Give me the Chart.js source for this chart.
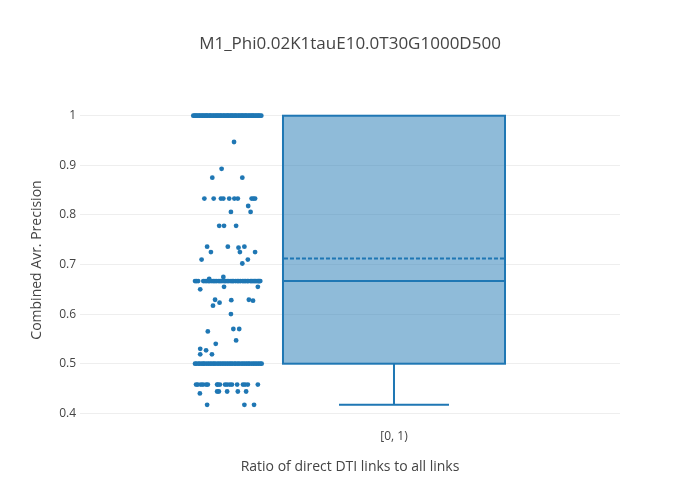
<!DOCTYPE html>
<html>
<head>
<meta charset="utf-8">
<script src="https://cdn.jsdelivr.net/npm/chart.js@4.4.1/dist/chart.umd.min.js"></script>
<style>
 html, body { margin: 0; background: #fff; }
</style>
</head>
<body>
<canvas id="chart" width="700" height="500"></canvas>
<script>
const titleText = "M1_Phi0.02K1tauE10.0T30G1000D500";
const category = "[0, 1)";
const xTitle = "Ratio of direct DTI links to all links";
const yTitle = "Combined Avr. Precision";
const yTicks = [0.4, 0.5, 0.6, 0.7, 0.8, 0.9, 1];

// crowded levels: one jitter entry (-1..1) per point
const jitterAtOne = [-0.99, -0.96, -0.92, -0.9, -0.86, -0.82, -0.8, -0.75, -0.73, -0.69,
 -0.66, -0.62, -0.6, -0.57, -0.52, -0.5, -0.47, -0.42, -0.4, -0.35,
 -0.33, -0.29, -0.27, -0.22, -0.2, -0.17, -0.12, -0.1, -0.06, -0.02,
 0.01, 0.03, 0.08, 0.1, 0.14, 0.16, 0.21, 0.23, 0.26, 0.31,
 0.33, 0.38, 0.4, 0.44, 0.46, 0.51, 0.53, 0.56, 0.61, 0.63,
 0.68, 0.7, 0.74, 0.76, 0.81, 0.83, 0.88, 0.9, 0.94, 0.98];
const jitterAtTwoThirds = [-0.94, -0.9, -0.85, -0.7, -0.65, -0.6, -0.55, -0.51, -0.45, -0.4,
 -0.36, -0.31, -0.25, -0.21, -0.16, -0.1, -0.06, -0.01, 0.04, 0.1,
 0.14, 0.18, 0.24, 0.29, 0.33, 0.38, 0.44, 0.48, 0.52, 0.57,
 0.6, 0.66, 0.7, 0.74, 0.78, 0.82, 0.86, 0.9, 0.92, 0.95];
const jitterAtHalf = [-0.94, -0.9, -0.84, -0.8, -0.74, -0.7, -0.66, -0.6, -0.55, -0.5,
 -0.45, -0.4, -0.36, -0.3, -0.25, -0.2, -0.15, -0.1, -0.05, 0.0,
 0.05, 0.1, 0.14, 0.2, 0.24, 0.3, 0.34, 0.4, 0.45, 0.5,
 0.55, 0.6, 0.64, 0.7, 0.75, 0.8, 0.85, 0.9, 0.95, 0.99];

// scattered points
const otherValues = [0.947, 0.893, 0.875, 0.875,
 0.833, 0.833, 0.833, 0.833, 0.833, 0.833, 0.833, 0.833, 0.833, 0.833,
 0.818, 0.806, 0.806, 0.778, 0.778, 0.778, 0.736, 0.736, 0.736, 0.734,
 0.725, 0.725, 0.725, 0.71, 0.71, 0.702,
 0.675, 0.671, 0.65, 0.655, 0.655, 0.629, 0.629, 0.628, 0.627, 0.623,
 0.617, 0.6, 0.565, 0.57, 0.57, 0.547, 0.54, 0.53, 0.527, 0.519, 0.519,
 0.458, 0.458, 0.458, 0.458, 0.458, 0.458, 0.458, 0.458, 0.458,
 0.458, 0.458, 0.458, 0.458, 0.458, 0.458, 0.458, 0.458, 0.458,
 0.444, 0.444, 0.444, 0.444, 0.444, 0.44, 0.417, 0.417, 0.417];
const otherJitter = [0.19, -0.17, -0.44, 0.43,
 -0.67, -0.4, -0.19, -0.12, 0.05, 0.2, 0.3, 0.7, 0.75, 0.8,
 0.6, 0.1, 0.67, -0.24, -0.1, 0.25, -0.59, 0.01, 0.49, 0.32,
 -0.48, 0.36, 0.8, -0.75, 0.59, 0.43,
 -0.12, -0.53, -0.79, -0.1, 0.88, -0.36, 0.62, 0.11, 0.74, -0.23,
 -0.42, 0.1, -0.57, 0.17, 0.34, 0.25, -0.34, -0.79, -0.62, -0.79, -0.45,
 -0.91, -0.86, -0.77, -0.71, -0.62, -0.57, -0.3, -0.28, -0.22,
 -0.07, -0.01, 0.07, 0.13, 0.28, 0.45, 0.51, 0.59, 0.88,
 -0.3, -0.25, -0.01, 0.3, 0.54, -0.8, -0.59, 0.49, 0.77];

const values = [
 ...jitterAtOne.map(() => 1),
 ...jitterAtTwoThirds.map(() => 0.6667),
 ...jitterAtHalf.map(() => 0.5),
 ...otherValues,
];
const jitter = [...jitterAtOne, ...jitterAtTwoThirds, ...jitterAtHalf, ...otherJitter];

// layout of the trace along the x axis (box at 0, points to its left)
const boxHalf = 0.35;
const capHalf = 0.1734;
const pointCenter = -0.525;
const jitterHalf = 0.1088;
const blue = "#1f77b4";

const quantile = (s, p) => {
 const i = (s.length - 1) * p;
 const lo = Math.floor(i), hi = Math.ceil(i);
 return s[lo] + (s[hi] - s[lo]) * (i - lo);
};
const sorted = [...values].sort((a, b) => a - b);
const q1 = quantile(sorted, 0.25);
const median = quantile(sorted, 0.5);
const q3 = quantile(sorted, 0.75);
const mean = values.reduce((a, b) => a + b, 0) / values.length;
const iqr = q3 - q1;
const lowWhisker = sorted.find((v) => v >= q1 - 1.5 * iqr);
const highWhisker = [...sorted].reverse().find((v) => v <= q3 + 1.5 * iqr);

const font = "'Open Sans', verdana, arial, sans-serif";

const boxPlugin = {
 id: "box",
 beforeDatasetsDraw(chart) {
  const { ctx } = chart;
  const x = chart.scales.x, y = chart.scales.y;
  const l = x.getPixelForValue(-boxHalf), r = x.getPixelForValue(boxHalf);
  const c = x.getPixelForValue(0);
  const top = y.getPixelForValue(q3), bot = y.getPixelForValue(q1);
  ctx.save();
  ctx.lineWidth = 2;
  ctx.strokeStyle = blue;
  ctx.fillStyle = "rgba(31,119,180,0.5)";
  ctx.fillRect(l, top, r - l, bot - top);
  ctx.strokeRect(l, top, r - l, bot - top);
  // median
  const m = y.getPixelForValue(median);
  ctx.beginPath(); ctx.moveTo(l, m); ctx.lineTo(r, m); ctx.stroke();
  // whiskers
  const wl = y.getPixelForValue(lowWhisker), wh = y.getPixelForValue(highWhisker);
  const cl = x.getPixelForValue(-capHalf), cr = x.getPixelForValue(capHalf);
  ctx.beginPath();
  ctx.moveTo(c, bot); ctx.lineTo(c, wl);
  ctx.moveTo(cl, wl); ctx.lineTo(cr, wl);
  if (Math.abs(wh - top) > 0.5) {
   ctx.moveTo(c, top); ctx.lineTo(c, wh);
   ctx.moveTo(cl, wh); ctx.lineTo(cr, wh);
  }
  ctx.stroke();
  // mean
  const mm = y.getPixelForValue(mean);
  ctx.setLineDash([4, 2]);
  ctx.beginPath(); ctx.moveTo(l + 1, mm); ctx.lineTo(r - 1, mm); ctx.stroke();
  ctx.restore();
 },
 afterDraw(chart) {
  // title centred on the whole figure, like plotly
  const { ctx } = chart;
  ctx.save();
  ctx.fillStyle = "#444";
  ctx.font = "17px " + font;
  ctx.textAlign = "center";
  ctx.textBaseline = "middle";
  ctx.fillText(titleText, chart.width / 2, 44);
  ctx.restore();
 },
};

new Chart(document.getElementById("chart"), {
 type: "scatter",
 data: {
  datasets: [
   {
    data: values.map((v, i) => ({ x: pointCenter + jitter[i] * jitterHalf, y: v })),
    backgroundColor: blue,
    borderWidth: 0,
    pointRadius: 2.4,
   },
  ],
 },
 options: {
  responsive: false,
  animation: false,
  layout: { padding: { left: 0, right: 80, top: 100, bottom: 0 } },
  scales: {
   x: {
    type: "linear",
    min: -0.99,
    max: 0.7126,
    grid: { display: false },
    border: { display: false },
    afterBuildTicks: (s) => { s.ticks = [{ value: 0 }]; },
    afterFit: (s) => { s.height = 80; },
    ticks: {
     callback: () => category,
     color: "#444",
     font: { family: font, size: 12 },
     padding: 1,
     maxRotation: 0,
    },
    title: {
     display: true,
     text: xTitle,
     color: "#444",
     font: { family: font, size: 14 },
     padding: { top: 0, bottom: 25 },
    },
   },
   y: {
    min: 0.3865,
    max: 1.0317,
    grid: { color: "#eee", lineWidth: 1, drawTicks: false },
    border: { display: false },
    afterBuildTicks: (s) => { s.ticks = yTicks.map((v) => ({ value: v })); },
    afterFit: (s) => { s.width = 80; },
    ticks: {
     callback: (v) => String(Number(v.toFixed(1))),
     color: "#444",
     font: { family: font, size: 12 },
     padding: 4,
    },
    title: {
     display: true,
     text: yTitle,
     color: "#444",
     font: { family: font, size: 14 },
     padding: { top: 29, bottom: 0 },
    },
   },
  },
  plugins: {
   legend: { display: false },
   tooltip: { enabled: false },
   title: { display: false },
  },
 },
 plugins: [boxPlugin],
});
</script>
</body>
</html>
